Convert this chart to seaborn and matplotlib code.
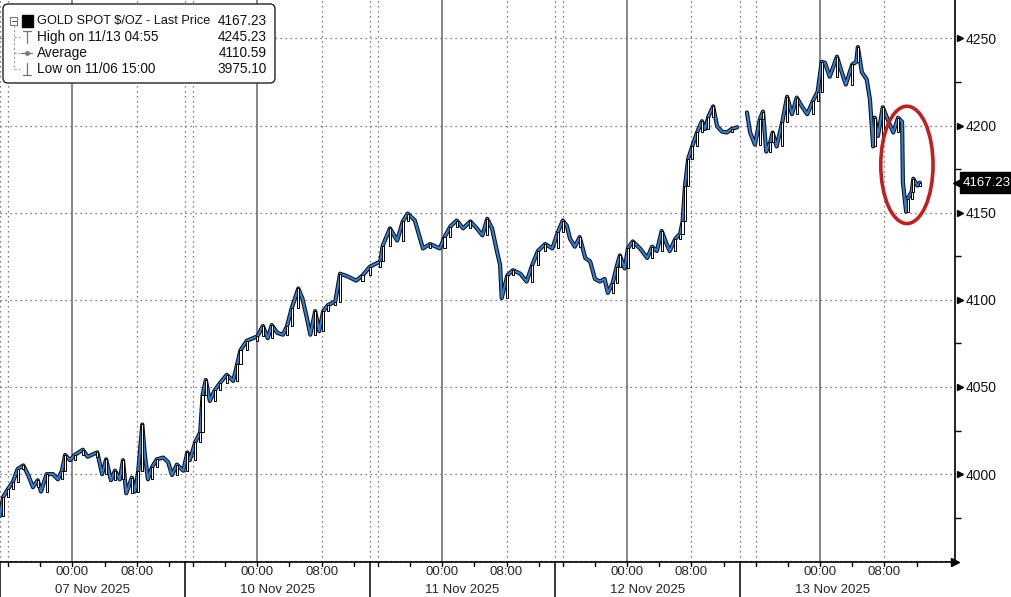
"""
Gold spot intraday chart (Bloomberg style), 06-13 Nov 2025.
"""

import numpy as np
import pandas as pd
import matplotlib
matplotlib.use("Agg")
import matplotlib.pyplot as plt
import matplotlib.transforms as mtransforms
import matplotlib.patheffects as pe
from matplotlib.patches import Ellipse, FancyBboxPatch, Rectangle
from matplotlib.lines import Line2D
import seaborn as sns

# Data: x = trading hours since 11/06 15:00 (weekend removed), price in $/oz

hours = [0.0, 0.4, 1.0, 1.6, 2.2, 2.9, 3.5, 4.1, 4.7, 5.1, 5.8, 6.6, 7.2, 7.7, 8.1,
         8.7, 9.3, 10.3, 10.9, 12.1, 12.7, 13.2, 13.8, 14.3, 14.9, 15.3, 15.7, 16.4,
         16.8, 17.2, 17.7, 18.0, 18.4, 18.9, 19.5, 20.3, 20.9, 21.4, 22.0, 22.8,
         23.3, 23.6, 24.3, 24.9, 25.2, 25.6, 26.1, 26.7, 27.4, 28.2, 29.0, 29.5,
         29.9, 30.7, 32.0, 32.7, 33.3, 33.8, 34.5, 35.2, 35.7, 36.3, 37.1, 37.6,
         38.1, 38.6, 39.2, 39.7, 40.2, 40.8, 41.7, 42.3, 43.2, 44.3, 45.1, 46.0,
         47.3, 47.6, 48.5, 49.4, 50.1, 50.7, 51.6, 52.2, 52.6, 53.5, 54.7, 55.3,
         56.0, 56.8, 57.6, 58.5, 59.3, 60.0, 60.6, 61.2, 61.8, 62.2, 62.4, 63.1,
         63.8, 64.7, 65.5, 66.2, 66.9, 67.8, 68.7, 69.4, 70.0, 70.5, 70.9, 71.5,
         72.1, 72.8, 73.4, 74.0, 74.6, 75.2, 75.6, 76.2, 76.7, 77.1, 77.7, 78.1,
         78.7, 79.6, 80.5, 81.1, 81.7, 82.3, 83.0, 83.3, 84.0, 84.6, 84.9, 85.2,
         85.6, 86.1, 86.7, 87.3, 87.7, 88.1, 88.7, 89.2, 89.8, 90.4, 91.0, 91.7,
         92.9, 93.3, 93.9, 94.5, 94.9, 95.3, 95.8, 96.1, 96.6, 97.3, 97.9, 98.5,
         99.1, 99.8, 100.4, 101.1, 101.7, 102.2, 102.6, 103.2, 104.1, 104.7, 105.2,
         106.0, 106.5, 106.7, 107.2, 107.8, 108.2, 108.6, 108.8, 109.2, 109.8,
         110.4, 111.1, 111.7, 112.2, 112.3, 112.7, 112.9, 113.4, 113.6, 114.1, 114.4]

prices = [3976, 3987, 3991.5, 3995.5, 4003, 4005, 3999.5, 3992.5, 3996.5, 3990, 4000,
          4000, 3997, 4002, 4011, 4008, 4011, 4014, 4010, 4012.5, 4000, 4008.5, 3996.5,
          4002, 3997, 4008, 3989, 3998, 3990, 4002, 4028.5, 4011.5, 3997, 4004, 4008.5,
          4009.5, 4007, 3999.5, 4005.5, 4002,
          4012.5, 4008, 4018.5, 4024, 4045.5, 4054, 4042, 4048, 4052.5, 4057, 4053.5,
          4063, 4071, 4076.5, 4079, 4085, 4078, 4085.5, 4081, 4080, 4085, 4095.5,
          4106.5, 4101, 4091, 4080, 4093.5, 4082, 4093.5, 4097, 4099, 4115, 4113.5,
          4111, 4114, 4119,
          4122, 4131, 4141, 4134, 4145, 4149.5, 4145.5, 4136, 4129.5, 4132, 4129.5,
          4136, 4142, 4145.5, 4141, 4145, 4141, 4137, 4146.5, 4141, 4128, 4120, 4101,
          4114, 4117, 4115, 4110.5, 4120, 4128, 4132, 4129.5,
          4139, 4145.5, 4142.5, 4135, 4130.5, 4136, 4124, 4122, 4112, 4110.5, 4112,
          4104, 4109.5, 4119, 4125.5, 4118, 4129.5, 4133.5, 4129.5, 4124, 4130.5,
          4128, 4139.5, 4131, 4128, 4135, 4138, 4145, 4165.5, 4181, 4188, 4196,
          4202.5, 4198, 4205, 4211, 4199.5, 4196.5, 4196, 4198, 4199,
          4207.5, 4196, 4189, 4203.5, 4208, 4185, 4190.5, 4196, 4188, 4202, 4216.5,
          4206.5, 4216, 4210.5, 4206.5, 4214, 4219.5, 4236.5, 4236, 4228, 4239.5,
          4230.5, 4223.5, 4235, 4236.5, 4245, 4230.5, 4226.5, 4215, 4188, 4204.5,
          4194, 4210.5, 4203.5, 4196, 4204.5, 4202, 4167.5, 4150.5, 4158, 4162,
          4169.5, 4165.5, 4167.23]

day_labels = ['07 Nov 2025', '10 Nov 2025', '11 Nov 2025', '12 Nov 2025', '13 Nov 2025']
day_starts = [0, 23, 46, 69, 92]       # section separators
session_opens = [0, 23, 46, 69, 93]    # 15:00 of previous day
y_ticks = [4000, 4050, 4100, 4150, 4200, 4250]

legend_rows = [('High on 11/13 04:55', '4245.23'),
               ('Average', '4110.59'),
               ('Low on 11/06 15:00', '3975.10')]
last_price = 4167.23

BLUE = '#2f7ed8'
GRID = '#555555'

sns.set_theme(style='white')
plt.rcParams['font.family'] = ['Liberation Sans', 'DejaVu Sans']

df = pd.DataFrame({'hour': hours, 'price': prices})
df['seg'] = (df['hour'] > 92).astype(int)
df['open'] = df.groupby('seg')['price'].shift(1)
df['open'] = df['open'].fillna(df['price'])

fig = plt.figure(figsize=(10.11, 5.97), dpi=100)
ax = fig.add_axes([0, 35 / 597, 955 / 1011, 562 / 597])
ax.set_xlim(0, 955 / 8.04)
ax.set_ylim(3949.6, 4272)

# grid
for yv in range(3950, 4300, 50):
    ax.axhline(yv, color=GRID, lw=0.9, ls=(0, (1, 3)), zorder=1)
for s, o in zip(day_starts, session_opens):
    ax.axvline(s, color=GRID, lw=0.9, ls=(0, (1, 3)), zorder=1)
    ax.axvline(o + 1, color=GRID, lw=0.9, ls=(0, (1, 3)), zorder=1)
    ax.axvline(o + 9, color='#666666', lw=1.1, zorder=1)
    ax.axvline(o + 17, color=GRID, lw=0.9, ls=(0, (1, 3)), zorder=1)

# price line, blue with a black outline like the candle chart
sns.lineplot(data=df, x='hour', y='price', units='seg', estimator=None,
             color=BLUE, lw=1.5, ax=ax, zorder=3, legend=False)
for ln in ax.lines[-2:]:
    ln.set_path_effects([pe.Stroke(linewidth=3.0, foreground='#111111'), pe.Normal()])

# up candles as small white boxes
up = df[df['price'] > df['open'] + 1.5]
ax.bar(up['hour'], up['price'] - up['open'], bottom=up['open'], width=0.28,
       color='white', edgecolor='black', linewidth=0.7, zorder=4)

ax.add_patch(Ellipse((112.8, 4177.4), 6.5, 67.3, fill=False,
                     edgecolor='#c21f1f', lw=2.6, zorder=6))

# spines
for side in ['left', 'top']:
    ax.spines[side].set_visible(False)
ax.spines['right'].set_color('black')
ax.spines['right'].set_linewidth(1.2)
ax.spines['bottom'].set_color('black')
ax.spines['bottom'].set_linewidth(1.2)
ax.plot(1.0, 0, marker='>', ms=6, color='black', transform=ax.transAxes, clip_on=False)

# y axis (right)
ax.yaxis.tick_right()
ax.set_yticks(y_ticks)
ax.set_yticklabels([str(v) for v in y_ticks])
ax.set_yticks([3975, 4025, 4075, 4125, 4175, 4225], minor=True)
ax.tick_params(axis='y', which='major', length=0, pad=8, labelsize=10, colors='#111111')
ax.tick_params(axis='y', which='minor', length=4, width=1, right=True, left=False,
               direction='out', color='black')
ytrans = mtransforms.blended_transform_factory(ax.transAxes, ax.transData)
for v in y_ticks:
    ax.plot(1.005, v, marker='>', ms=4.5, color='black', transform=ytrans, clip_on=False)
ax.set_ylabel('')

# last price tag
ax.add_patch(Rectangle((1.0052, last_price - 6.0), 0.056, 12.0, transform=ytrans,
                       fc='black', ec='black', clip_on=False, zorder=7))
ax.plot(1.0055, last_price, marker='<', ms=10, color='black', transform=ytrans,
        clip_on=False, zorder=7)
ax.text(1.0335, last_price, f'{last_price:.2f}', transform=ytrans, ha='center',
        va='center', color='white', fontsize=9.5, zorder=8)

# x axis (custom two-level labels)
ax.set_xticks([])
ax.set_xlabel('')
xtrans = mtransforms.blended_transform_factory(ax.transData, ax.transAxes)
for i, (s, o) in enumerate(zip(day_starts, session_opens)):
    end = day_starts[i + 1] if i + 1 < len(day_starts) else s + 23
    ax.plot([s, s], [0, -0.065], color='black', lw=1.1, transform=xtrans, clip_on=False)
    for k in range(6):
        ax.plot([o + 1 + 4 * k] * 2, [0, -0.008], color='black', lw=1,
                transform=xtrans, clip_on=False)
    ax.text(o + 9, -0.017, '00:00', transform=xtrans, ha='center', va='center', fontsize=9.5)
    ax.text(o + 17, -0.017, '08:00', transform=xtrans, ha='center', va='center', fontsize=9.5)
    ax.text((s + end) / 2, -0.049, day_labels[i], transform=xtrans, ha='center',
            va='center', fontsize=9.5)

# legend box
inch = fig.dpi_scale_trans
fig.add_artist(FancyBboxPatch((0.03, (597 - 83) / 100), 2.72, 0.79,
                              boxstyle='round,pad=0,rounding_size=0.05',
                              fc='white', ec='#222222', lw=1.0, transform=inch, zorder=10))
row_y = [(597 - 21) / 100, (597 - 37) / 100, (597 - 53) / 100, (597 - 69) / 100]
fig.add_artist(Rectangle((0.10, row_y[0] - 0.035), 0.07, 0.07, fc='white', ec='#777777',
                         lw=0.8, transform=inch, zorder=11))
fig.add_artist(Line2D([0.115, 0.155], [row_y[0]] * 2, color='#555555', lw=0.8,
                      transform=inch, zorder=12))
fig.add_artist(Rectangle((0.22, row_y[0] - 0.055), 0.105, 0.11, fc='black', ec='black',
                         transform=inch, zorder=11))
fig.add_artist(Line2D([0.135, 0.135], [row_y[0] - 0.04, row_y[3]], color='#999999', lw=0.8,
                      ls=(0, (2, 2)), transform=inch, zorder=11))
for ry in row_y[1:]:
    fig.add_artist(Line2D([0.135, 0.2], [ry, ry], color='#999999', lw=0.8, ls=(0, (2, 2)),
                          transform=inch, zorder=11))
# icons: high, average, low
fig.add_artist(Line2D([0.265, 0.265], [row_y[1] - 0.06, row_y[1] + 0.06], color='#777777',
                      lw=0.9, transform=inch, zorder=12))
fig.add_artist(Line2D([0.225, 0.305], [row_y[1] + 0.06] * 2, color='#777777', lw=0.9,
                      transform=inch, zorder=12))
fig.add_artist(Line2D([0.21, 0.32], [row_y[2]] * 2, color='#777777', lw=0.9,
                      transform=inch, zorder=12))
fig.add_artist(Line2D([0.265], [row_y[2]], color='#777777', marker='o', ms=2.5,
                      transform=inch, zorder=12))
fig.add_artist(Line2D([0.265, 0.265], [row_y[3] - 0.06, row_y[3] + 0.06], color='#777777',
                      lw=0.9, transform=inch, zorder=12))
fig.add_artist(Line2D([0.225, 0.305], [row_y[3] - 0.06] * 2, color='#777777', lw=0.9,
                      transform=inch, zorder=12))

fig.text(0.37, row_y[0], 'GOLD SPOT $/OZ - Last Price', transform=inch, va='center',
         ha='left', fontsize=9.2, color='#111111', zorder=12)
fig.text(2.67, row_y[0], f'{last_price:.2f}', transform=inch, va='center', ha='right',
         fontsize=9.8, color='#111111', zorder=12)
for (lab, val), ry in zip(legend_rows, row_y[1:]):
    fig.text(0.37, ry, lab, transform=inch, va='center', ha='left', fontsize=9.8,
             color='#111111', zorder=12)
    fig.text(2.67, ry, val, transform=inch, va='center', ha='right', fontsize=9.8,
             color='#111111', zorder=12)

fig.savefig('out.png', dpi=100)
